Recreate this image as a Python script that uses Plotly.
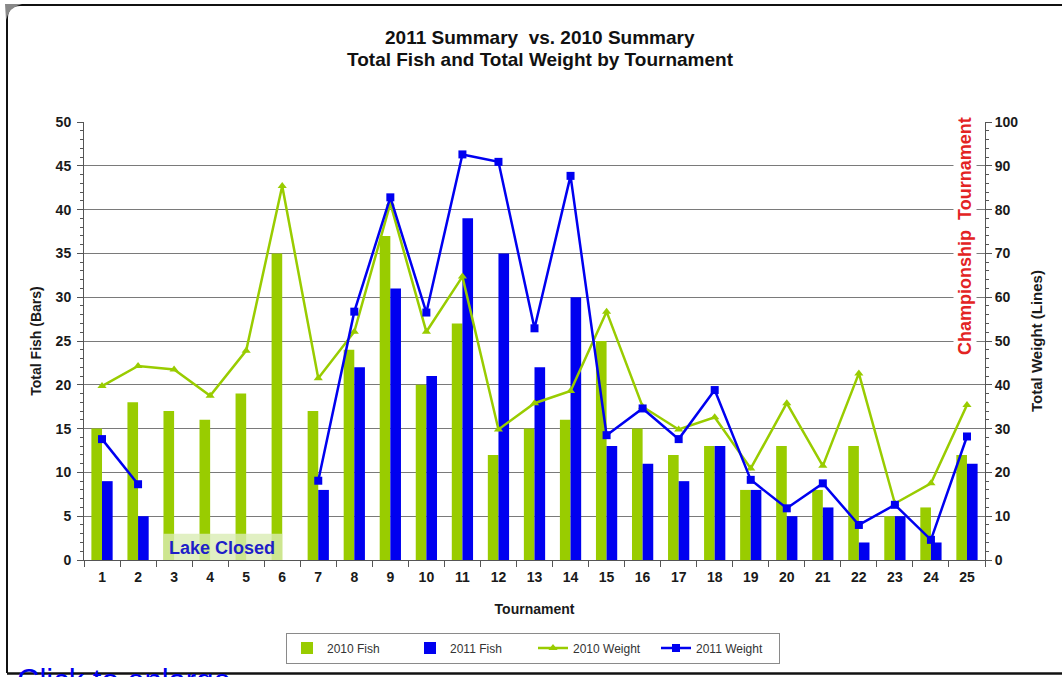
import plotly.graph_objects as go

tournaments = [str(i) for i in range(1, 26)]
fish_2010 = [15, 18, 17, 16, 19, 35, 17, 24, 37, 20, 27, 12, 15, 16, 25, 15, 12, 13, 8, 13, 8, 13, 5, 6, 12]
fish_2011 = [9, 5, None, None, None, None, 8, 22, 31, 21, 39, 35, 22, 30, 13, 11, 9, 13, 8, 5, 6, 2, 5, 2, 11]
weight_2010 = [39.7, 44.3, 43.5, 37.5, 47.8, 85.4, 41.5, 52.1, 81.4, 52.1, 64.7, 29.8, 35.8, 38.6, 56.7,
               35.0, 29.8, 32.6, 20.9, 35.8, 21.5, 42.6, 12.9, 17.5, 35.4]
weight_2011 = [27.6, 17.3, None, None, None, None, 18.1, 56.7, 82.8, 56.5, 92.6, 90.9, 52.9, 87.7, 28.5,
               34.6, 27.6, 38.8, 18.3, 11.8, 17.5, 8.0, 12.6, 4.6, 28.2]

GREEN = "#99cc00"
BLUE = "#0000f0"
FONT = "Liberation Sans, Arial, sans-serif"

W, H = 1062, 677
L, R, T, B = 84, 77, 122, 117
PW, PH = W - L - R, H - T - B


def px(x):
    return (x - L) / PW


def py(y):
    return (H - B - y) / PH


fig = go.Figure()
fig.add_trace(go.Bar(x=tournaments, y=fish_2010, name="2010 Fish", marker=dict(color=GREEN, line=dict(width=0))))
fig.add_trace(go.Bar(x=tournaments, y=fish_2011, name="2011 Fish", marker=dict(color=BLUE, line=dict(width=0))))
fig.add_trace(go.Scatter(x=tournaments, y=weight_2010, name="2010 Weight", yaxis="y2", mode="lines+markers",
                         line=dict(color=GREEN, width=2.5),
                         marker=dict(symbol="triangle-up", size=8, color=GREEN)))
fig.add_trace(go.Scatter(x=tournaments, y=weight_2011, name="2011 Weight", yaxis="y2", mode="lines+markers",
                         connectgaps=False, line=dict(color=BLUE, width=2.5),
                         marker=dict(symbol="square", size=8, color=BLUE)))

tickfont = dict(family=FONT, size=14, color="#1a1a1a", weight="bold")
titlefont = dict(family=FONT, size=14, color="#1a1a1a", weight="bold")

fig.update_layout(
    width=W, height=H,
    margin=dict(l=L, r=R, t=T, b=B),
    paper_bgcolor="white", plot_bgcolor="white",
    barmode="group", bargap=0.41, bargroupgap=0,
    showlegend=True,
    legend=dict(orientation="h", x=px(533), y=py(648), xanchor="center", yanchor="middle",
                bordercolor="#8a8a8a", borderwidth=1, font=dict(family=FONT, size=12, color="#333"),
                traceorder="normal", entrywidth=78, entrywidthmode="pixels"),
    xaxis=dict(type="category", tickson="boundaries", ticks="outside", ticklen=6, tickcolor="#555",
               showline=True, linecolor="#555", linewidth=1, showgrid=False,
               tickfont=tickfont, range=[-0.5, 24.5], ticklabelstandoff=4,
               title=dict(text="Tournament", font=titlefont, standoff=20)),
    yaxis=dict(range=[0, 50], dtick=5, tick0=0, ticks="outside", ticklen=6, tickcolor="#555",
               showline=True, linecolor="#555", linewidth=1, showgrid=True, gridcolor="#7a7a7a", gridwidth=1.2,
               zeroline=False, tickfont=tickfont, ticklabelstandoff=3,
               minor=dict(dtick=1, ticks="outside", ticklen=3, tickcolor="#555", showgrid=False),
               title=dict(text="Total Fish (Bars)", font=titlefont, standoff=10)),
    yaxis2=dict(range=[0, 100], dtick=10, tick0=0, overlaying="y", side="right", ticks="outside", ticklen=6,
                tickcolor="#555", showline=True, linecolor="#555", linewidth=1, showgrid=False, zeroline=False,
                tickfont=tickfont,
                minor=dict(dtick=2, ticks="outside", ticklen=3, tickcolor="#555", showgrid=False),
                title=dict(text="Total Weight (Lines)", font=dict(family=FONT, size=15, color="#1a1a1a", weight="bold"),
                           standoff=14)),
)

# Lake closed box
fig.add_shape(type="rect", xref="x", yref="y", x0=1.7, x1=5.0, y0=0, y1=3,
              fillcolor="rgba(218,236,180,0.8)", line=dict(width=0), layer="above")
fig.add_annotation(x=3.33, y=1.35, xref="x", yref="y", text="Lake Closed", showarrow=False,
                   xanchor="center", yanchor="middle",
                   font=dict(family=FONT, size=18, color="#1e1ec8", weight="bold"))

# Championship Tournament label
fig.add_annotation(x=px(965), y=py(236), xref="paper", yref="paper", text="Championship  Tournament",
                   textangle=-90, showarrow=False, bgcolor="white", xanchor="center", yanchor="middle",
                   font=dict(family=FONT, size=18, color="#e32323", weight="bold"))

# Titles
fig.add_annotation(x=px(540), y=py(38), xref="paper", yref="paper", text="2011 Summary  vs. 2010 Summary",
                   showarrow=False, xanchor="center", yanchor="middle",
                   font=dict(family=FONT, size=19, color="#111", weight="bold"))
fig.add_annotation(x=px(540), y=py(60), xref="paper", yref="paper", text="Total Fish and Total Weight by Tournament",
                   showarrow=False, xanchor="center", yanchor="middle",
                   font=dict(family=FONT, size=19, color="#111", weight="bold"))

# Frame
frame = (f"M {px(7)},{py(673)} L {px(7)},{py(18)} Q {px(7)},{py(5)} {px(20)},{py(5)} L {px(1062)},{py(5)}")
fig.add_shape(type="path", xref="paper", yref="paper", path=frame, line=dict(color="#111", width=2))
fig.add_shape(type="path", xref="paper", yref="paper",
              path=f"M {px(5)},{py(4)} L {px(22)},{py(4)} Q {px(9)},{py(7)} {px(6)},{py(20)} Z",
              fillcolor="#888", line=dict(width=0))
fig.add_shape(type="line", xref="paper", yref="paper", x0=px(7), x1=px(1062), y0=py(673.5), y1=py(673.5),
              line=dict(color="#111", width=2.5))

fig.add_annotation(x=px(15), y=py(680), xref="paper", yref="paper", text="Click to enlarge", xanchor="left",
                   yanchor="middle", showarrow=False, font=dict(family=FONT, size=31, color="#0000ee"))

fig.write_html("out.html", config={"displayModeBar": False},
               post_script="document.body.style.margin='0';document.body.style.overflow='hidden';")
